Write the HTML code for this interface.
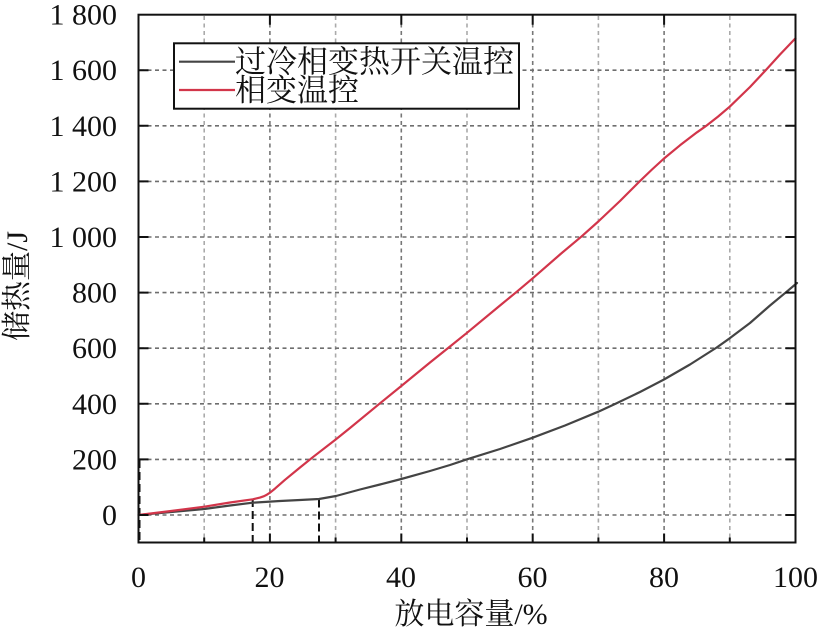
<!DOCTYPE html>
<html><head><meta charset="utf-8"><style>
html,body{margin:0;padding:0;background:#fff;}
svg{display:block;}
text{font-family:"Liberation Serif","Noto Serif CJK SC",serif;fill:#111;}
</style></head><body>
<svg width="827" height="643" viewBox="0 0 827 643" xmlns="http://www.w3.org/2000/svg">
<rect width="827" height="643" fill="#fff"/>
<!-- vertical grid -->
<g stroke-width="1.6" stroke-dasharray="4 3.5" fill="none">
<line x1="204.2" y1="16" x2="204.2" y2="541" stroke="#aaa"/>
<line x1="269.9" y1="16" x2="269.9" y2="541" stroke="#777"/>
<line x1="335.6" y1="16" x2="335.6" y2="541" stroke="#aaa"/>
<line x1="401.3" y1="16" x2="401.3" y2="541" stroke="#777"/>
<line x1="467" y1="16" x2="467" y2="541" stroke="#aaa"/>
<line x1="532.7" y1="16" x2="532.7" y2="541" stroke="#777"/>
<line x1="598.4" y1="16" x2="598.4" y2="541" stroke="#aaa"/>
<line x1="664.1" y1="16" x2="664.1" y2="541" stroke="#777"/>
<line x1="729.8" y1="16" x2="729.8" y2="541" stroke="#aaa"/>
</g>
<!-- horizontal grid -->
<g stroke="#6e6e6e" stroke-width="1.6" stroke-dasharray="4 3.5" fill="none">
<line x1="140" y1="515" x2="794" y2="515"/>
<line x1="140" y1="459.4" x2="794" y2="459.4"/>
<line x1="140" y1="403.8" x2="794" y2="403.8"/>
<line x1="140" y1="348.2" x2="794" y2="348.2"/>
<line x1="140" y1="292.6" x2="794" y2="292.6"/>
<line x1="140" y1="237" x2="794" y2="237"/>
<line x1="140" y1="181.4" x2="794" y2="181.4"/>
<line x1="140" y1="125.8" x2="794" y2="125.8"/>
<line x1="140" y1="70.2" x2="794" y2="70.2"/>
</g>
<!-- black dashed markers -->
<g stroke="#111" stroke-width="2" stroke-dasharray="8 4" fill="none">
<line x1="252.7" y1="499" x2="252.7" y2="542"/>
<line x1="319" y1="499.5" x2="319" y2="542"/>
<line x1="139.5" y1="460" x2="139.5" y2="542"/>
</g>
<!-- curves -->
<polyline fill="none" stroke="#444" stroke-width="2.2" stroke-linejoin="round" stroke-linecap="round"
points="138.5,515 171,512 204.3,509 230,505.5 252.7,502.7 280,501 300,500 319,499 336,496 360,489.5 380,484.5 401.3,479 430,471 450,465 467,459.3 500,449 532.7,437.7 565,425.5 598.3,411.7 615,404 640,392 664,379.5 690,364.5 716.7,347.5 729.7,338.3 750,323 770,305.5 786.7,291.7 797,283"/>
<polyline fill="none" stroke="#d2354a" stroke-width="2.2" stroke-linejoin="round" stroke-linecap="round"
points="138.5,515 171,511 204.3,506.7 230,502.5 252.7,499.3 260,497.6 264,496.2 267,494.6 270,492.7 275,488.6 285,479.8 300,467.5 313.3,456.8 335.7,439.5 350,428 380,403.3 401.3,386 430,362.5 450,346.5 467,332.8 500,305.5 516.7,291.8 532.7,278.3 560,254.5 581.7,236.3 598.3,221.5 620,201 640,181 652,169.5 664,158.5 680,145.3 697,132.3 706,126 718,116.6 729.7,106.7 750,87 765.7,70.2 780,54.5 795.5,38.3"/>
<!-- frame -->
<rect x="138.5" y="14.7" width="657" height="527.8" fill="none" stroke="#111" stroke-width="2"/>
<!-- ticks -->
<g stroke="#111" stroke-width="2" fill="none">
<!-- left/right major y ticks -->
<path d="M138.5 515h10M138.5 459.4h10M138.5 403.8h10M138.5 348.2h10M138.5 292.6h10M138.5 237h10M138.5 181.4h10M138.5 125.8h10M138.5 70.2h10"/>
<path d="M795.5 515h-10M795.5 459.4h-10M795.5 403.8h-10M795.5 348.2h-10M795.5 292.6h-10M795.5 237h-10M795.5 181.4h-10M795.5 125.8h-10M795.5 70.2h-10"/>
<!-- bottom ticks -->
<path d="M269.9 542.5v-9M401.3 542.5v-9M532.7 542.5v-9M664.1 542.5v-9"/>
<path d="M204.2 542.5v-5M335.6 542.5v-5M467 542.5v-5M598.4 542.5v-5M729.8 542.5v-5"/>
<!-- top ticks -->
<path d="M269.9 14.7v10M401.3 14.7v10M532.7 14.7v10M664.1 14.7v10"/>
</g>
<!-- y tick labels -->
<g font-size="30" text-anchor="end">
<text x="117" y="525">0</text>
<text x="117" y="469.4">200</text>
<text x="117" y="413.8">400</text>
<text x="117" y="358.2">600</text>
<text x="117" y="302.6">800</text>
<text x="117" y="247">1 000</text>
<text x="117" y="191.4">1 200</text>
<text x="117" y="135.8">1 400</text>
<text x="117" y="80.2">1 600</text>
<text x="117" y="24.7">1 800</text>
</g>
<!-- x tick labels -->
<g font-size="30" text-anchor="middle">
<text x="138.5" y="587">0</text>
<text x="269.5" y="587">20</text>
<text x="401" y="587">40</text>
<text x="532.5" y="587">60</text>
<text x="664" y="587">80</text>
<text x="795.5" y="587">100</text>
</g>
<!-- axis titles -->
<text x="471" y="624" font-size="30" text-anchor="middle">放电容量/%</text>
<text transform="translate(27,286) rotate(-90)" font-size="30" text-anchor="middle">储热量/J</text>
<!-- legend -->
<rect x="174" y="43.3" width="345" height="65.4" fill="#fff" stroke="#111" stroke-width="2"/>
<line x1="179" y1="61.7" x2="235" y2="61.7" stroke="#444" stroke-width="2.2"/>
<line x1="179" y1="90" x2="235" y2="90" stroke="#d2354a" stroke-width="2.2"/>
<text x="235" y="72.5" font-size="31">过冷相变热开关温控</text>
<text x="235" y="101" font-size="31">相变温控</text>
</svg>
</body></html>
